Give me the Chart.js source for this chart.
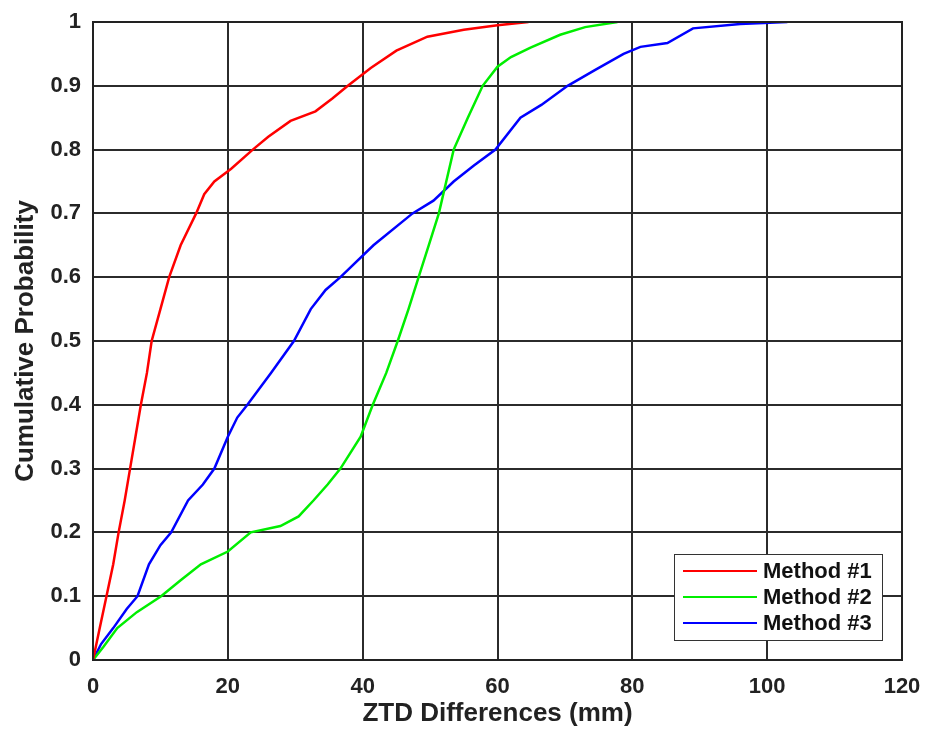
<!DOCTYPE html>
<html>
<head>
<meta charset="utf-8">
<script src="https://cdn.jsdelivr.net/npm/chart.js@4"></script>
<style>
  html, body { margin: 0; padding: 0; background: #fff; }
  #wrap { width: 926px; height: 731px; }
</style>
</head>
<body>
<div id="wrap"><canvas id="cdf"></canvas></div>
<script>
// Data (ZTD difference in mm, cumulative probability)
const seriesLabels = ['Method #1', 'Method #2', 'Method #3'];
const seriesColors = ['#ff0000', '#00ee00', '#0000ff'];

const method1X = [0, 1, 2, 3, 3.8, 4.7, 5.5, 6.3, 7.1, 8, 8.7, 10, 11.3, 13, 15.3, 16.5, 18, 20.5, 23.7, 26, 29.3, 33, 35.5, 37.8, 41.2, 45, 49.6, 55, 60, 64.6];
const method1Y = [0, 0.05, 0.1, 0.15, 0.2, 0.25, 0.3, 0.35, 0.4, 0.45, 0.5, 0.55, 0.6, 0.65, 0.7, 0.73, 0.75, 0.77, 0.8, 0.82, 0.845, 0.86, 0.88, 0.9, 0.928, 0.955, 0.977, 0.988, 0.995, 1];

const method2X = [0, 1.5, 3.6, 6.5, 10.1, 13, 16, 20, 23.4, 27.8, 30.5, 32.7, 34.8, 36.7, 39.7, 41.5, 43.5, 45.2, 46.8, 48.3, 49.8, 51.3, 52.4, 53.5, 55.6, 57.8, 60, 62, 64.9, 69.3, 73, 77.8];
const method2Y = [0, 0.02, 0.05, 0.075, 0.1, 0.125, 0.15, 0.17, 0.2, 0.21, 0.225, 0.25, 0.275, 0.3, 0.35, 0.4, 0.45, 0.5, 0.55, 0.6, 0.65, 0.7, 0.75, 0.8, 0.85, 0.9, 0.93, 0.945, 0.96, 0.98, 0.992, 1];

const method3X = [0, 1.2, 3, 5, 6.6, 8.3, 10, 11.6, 14.1, 16.3, 18, 20, 21.4, 22.9, 26.4, 29.8, 32.3, 34.5, 36.7, 41.6, 47.4, 50.5, 53.5, 56.5, 59.7, 63.4, 66.5, 70.4, 74.5, 78.7, 81.2, 85.2, 89, 96, 103];
const method3Y = [0, 0.025, 0.05, 0.08, 0.1, 0.15, 0.18, 0.2, 0.25, 0.275, 0.3, 0.35, 0.38, 0.4, 0.45, 0.5, 0.55, 0.58, 0.6, 0.65, 0.7, 0.72, 0.75, 0.775, 0.8, 0.85, 0.87, 0.9, 0.925, 0.95, 0.961, 0.967, 0.99, 0.997, 1];

const xTicks = [0, 20, 40, 60, 80, 100, 120];
const yTicks = [0, 0.1, 0.2, 0.3, 0.4, 0.5, 0.6, 0.7, 0.8, 0.9, 1];
const xTitle = 'ZTD Differences (mm)';
const yTitle = 'Cumulative Probability';

function toPoints(xs, ys) {
    return xs.map((x, i) => ({ x: x, y: ys[i] }));
}

const allX = [method1X, method2X, method3X];
const allY = [method1Y, method2Y, method3Y];

// box around the plot area
const frameBox = {
    id: 'frameBox',
    afterDraw(chart) {
        const a = chart.chartArea;
        const ctx = chart.ctx;
        ctx.save();
        ctx.strokeStyle = '#222';
        ctx.lineWidth = 2;
        ctx.strokeRect(a.left, a.top, a.right - a.left, a.bottom - a.top);
        ctx.restore();
    }
};

// legend inside the plot, lower right, MATLAB style
const insideLegend = {
    id: 'insideLegend',
    afterDraw(chart) {
        const a = chart.chartArea;
        const ctx = chart.ctx;
        const w = 208, h = 86;
        const x0 = a.right - 20 - w;
        const y0 = a.bottom - 20 - h;
        ctx.save();
        ctx.fillStyle = '#fff';
        ctx.fillRect(x0, y0, w, h);
        ctx.strokeStyle = '#333';
        ctx.lineWidth = 1;
        ctx.strokeRect(x0 + 0.5, y0 + 0.5, w, h);
        ctx.font = 'bold 22px "Liberation Sans", Arial, sans-serif';
        ctx.textBaseline = 'middle';
        chart.data.datasets.forEach((ds, i) => {
            const cy = y0 + 17 + i * 26;
            ctx.strokeStyle = ds.borderColor;
            ctx.lineWidth = 2;
            ctx.beginPath();
            ctx.moveTo(x0 + 9, cy);
            ctx.lineTo(x0 + 83, cy);
            ctx.stroke();
            ctx.fillStyle = '#111';
            ctx.fillText(ds.label, x0 + 89, cy + 1);
        });
        ctx.restore();
    }
};

const tickFont = { family: '"Liberation Sans", Arial, sans-serif', size: 22, weight: 'bold' };
const titleFont = { family: '"Liberation Sans", Arial, sans-serif', size: 26, weight: 'bold' };

new Chart(document.getElementById('cdf'), {
    type: 'line',
    data: {
        datasets: seriesLabels.map((lab, i) => ({
            label: lab,
            data: toPoints(allX[i], allY[i]),
            borderColor: seriesColors[i],
            backgroundColor: seriesColors[i],
            borderWidth: 2.5,
            pointRadius: 0,
            tension: 0,
            fill: false
        }))
    },
    options: {
        responsive: true,
        maintainAspectRatio: false,
        animation: false,
        layout: { padding: { left: 0, right: 24, top: 22, bottom: 0 } },
        plugins: {
            legend: { display: false },
            tooltip: { enabled: false }
        },
        scales: {
            x: {
                type: 'linear',
                min: 0,
                max: 120,
                afterBuildTicks: scale => { scale.ticks = xTicks.map(v => ({ value: v })); },
                afterFit: scale => {
                    scale.height = 71;
                    scale.paddingLeft = 0;
                    scale.paddingRight = 0;
                },
                ticks: { font: tickFont, color: '#222', padding: 14 },
                grid: { color: '#2b2b2b', lineWidth: 2, drawTicks: false },
                border: { color: '#222', width: 2 },
                title: { display: true, text: xTitle, font: titleFont, color: '#222', padding: { top: 0, bottom: 2 } }
            },
            y: {
                type: 'linear',
                min: 0,
                max: 1,
                afterBuildTicks: scale => { scale.ticks = yTicks.map(v => ({ value: v })); },
                afterFit: scale => {
                    scale.width = 93;
                    scale.paddingTop = 0;
                    scale.paddingBottom = 0;
                },
                ticks: {
                    font: tickFont,
                    color: '#222',
                    padding: 12,
                    callback: v => String(Number(v.toFixed(1)))
                },
                grid: { color: '#2b2b2b', lineWidth: 2, drawTicks: false },
                border: { color: '#222', width: 2 },
                title: { display: true, text: yTitle, font: titleFont, color: '#222', padding: { top: 10, bottom: 0 } }
            }
        }
    },
    plugins: [frameBox, insideLegend]
});
</script>
</body>
</html>
